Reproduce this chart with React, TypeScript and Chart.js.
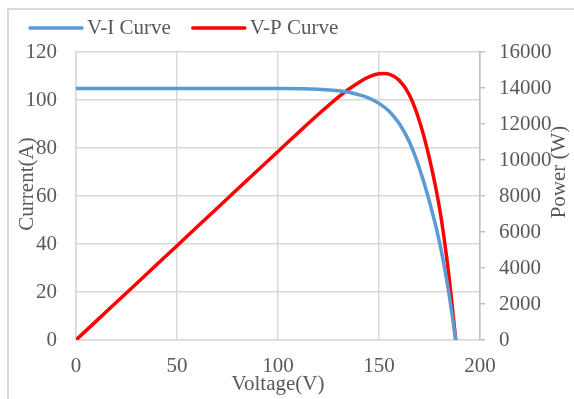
import React, { useEffect, useRef } from "react";
import { Chart, registerables } from "chart.js";

Chart.register(...registerables);

const voltage = [0, 20, 40, 60, 80, 100, 110, 120, 130, 135, 140, 145, 150, 155, 160, 165, 170, 175, 180, 184, 188];
const current = [104.8, 104.8, 104.8, 104.8, 104.8, 104.75, 104.7, 104.5, 103.9, 103.2, 102.2, 100.8, 98.6, 95.3, 90.2, 82.6, 71.6, 57.6, 40.6, 22.5, 0];
const power = [0, 2096, 4192, 6288, 8384, 10475, 11517, 12540, 13507, 13932, 14308, 14616, 14790, 14772, 14432, 13629, 12172, 10080, 7308, 4140, 0];

const xTicks = [0, 50, 100, 150, 200];
const currentTicks = [0, 20, 40, 60, 80, 100, 120];
const powerTicks = [0, 2000, 4000, 6000, 8000, 10000, 12000, 14000, 16000];

const seriesNames = ["V-I Curve", "V-P Curve"];
const seriesColors = ["#5B9BD5", "#FF0000"];
const xTitle = "Voltage(V)";
const yTitle = "Current(A)";
const y1Title = "Power (W)";

const FONT_FAMILY = "'Liberation Serif', 'Times New Roman', serif";
const FONT_SIZE = 21;
const TEXT_COLOR = "#595959";
const GRID_COLOR = "#d9d9d9";

const decorPlugin = {
  id: "decor",
  afterDraw(chart: any) {
    const { ctx, chartArea } = chart;
    ctx.save();
    ctx.font = `${FONT_SIZE}px ${FONT_FAMILY}`;
    ctx.fillStyle = TEXT_COLOR;
    // legend
    let x = 29;
    const ly = 28;
    chart.data.datasets.forEach((ds: any) => {
      ctx.strokeStyle = ds.borderColor;
      ctx.lineWidth = 3.5;
      ctx.lineCap = "round";
      ctx.beginPath();
      ctx.moveTo(x + 1, ly);
      ctx.lineTo(x + 53, ly);
      ctx.stroke();
      ctx.textAlign = "left";
      ctx.textBaseline = "middle";
      ctx.fillText(ds.label, x + 58, ly);
      x = x + 58 + ctx.measureText(ds.label).width + 21;
    });
    // axis titles
    ctx.textAlign = "center";
    ctx.textBaseline = "middle";
    ctx.fillText(xTitle, (chartArea.left + chartArea.right) / 2, chartArea.bottom + 44);
    ctx.save();
    ctx.translate(chartArea.left - 49, chartArea.top + 132);
    ctx.rotate(-Math.PI / 2);
    ctx.fillText(yTitle, 0, 0);
    ctx.restore();
    ctx.save();
    ctx.translate(chartArea.right + 79, chartArea.top + 120);
    ctx.rotate(-Math.PI / 2);
    ctx.fillText(y1Title, 0, 0);
    ctx.restore();
    ctx.restore();
  },
};

export default function App() {
  const canvasRef = useRef<HTMLCanvasElement | null>(null);

  useEffect(() => {
    if (!canvasRef.current) return;
    const font = { family: FONT_FAMILY, size: FONT_SIZE };
    const plain = (v: any) => String(v);
    const chart = new Chart(canvasRef.current, {
      type: "line",
      data: {
        datasets: [
          {
            label: seriesNames[0],
            data: voltage.map((v, i) => ({ x: v, y: current[i] })),
            borderColor: seriesColors[0],
            backgroundColor: seriesColors[0],
            borderWidth: 3.5,
            pointRadius: 0,
            tension: 0.4,
            yAxisID: "y",
          },
          {
            label: seriesNames[1],
            data: voltage.map((v, i) => ({ x: v, y: power[i] })),
            borderColor: seriesColors[1],
            backgroundColor: seriesColors[1],
            borderWidth: 3.5,
            pointRadius: 0,
            tension: 0.4,
            yAxisID: "y1",
          },
        ],
      },
      options: {
        responsive: false,
        animation: false,
        devicePixelRatio: 1,
        layout: { padding: { top: 52, left: 0, right: 0, bottom: 0 } },
        plugins: {
          legend: { display: false },
          tooltip: { enabled: false },
        },
        scales: {
          x: {
            type: "linear",
            min: xTicks[0],
            max: xTicks[xTicks.length - 1],
            afterBuildTicks: (s: any) => { s.ticks = xTicks.map((v) => ({ value: v })); },
            ticks: { font, color: TEXT_COLOR, padding: 14, maxRotation: 0, callback: plain },
            grid: { color: GRID_COLOR, lineWidth: 1.5, drawTicks: false },
            border: { color: GRID_COLOR, width: 1.5 },
            afterFit: (s: any) => { s.height = 59; },
          },
          y: {
            position: "left",
            min: currentTicks[0],
            max: currentTicks[currentTicks.length - 1],
            afterBuildTicks: (s: any) => { s.ticks = currentTicks.map((v) => ({ value: v })); },
            ticks: { font, color: TEXT_COLOR, padding: 19, callback: plain },
            grid: { color: GRID_COLOR, lineWidth: 1.5, drawTicks: false },
            border: { color: GRID_COLOR, width: 1.5 },
            afterFit: (s: any) => { s.width = 76; },
          },
          y1: {
            position: "right",
            min: powerTicks[0],
            max: powerTicks[powerTicks.length - 1],
            afterBuildTicks: (s: any) => { s.ticks = powerTicks.map((v) => ({ value: v })); },
            ticks: { font, color: TEXT_COLOR, padding: 14, callback: plain },
            grid: { drawOnChartArea: false, color: "#bfbfbf", tickLength: 5, lineWidth: 1.5 },
            border: { color: "#bfbfbf", width: 1.5 },
            afterFit: (s: any) => { s.width = 94; },
          },
        },
      },
      plugins: [decorPlugin],
    } as any);
    return () => chart.destroy();
  }, []);

  return (
    <div style={{ position: "absolute", left: 0, top: 0, width: 574, height: 399, background: "#fff", overflow: "hidden" }}>
      <canvas ref={canvasRef} width={574} height={399} style={{ position: "absolute", left: 0, top: 0 }} />
      <div
        style={{
          position: "absolute",
          left: 7,
          top: 8,
          width: 700,
          height: 500,
          borderLeft: "2px solid #d9d9d9",
          borderTop: "2px solid #d9d9d9",
          pointerEvents: "none",
        }}
      />
    </div>
  );
}
